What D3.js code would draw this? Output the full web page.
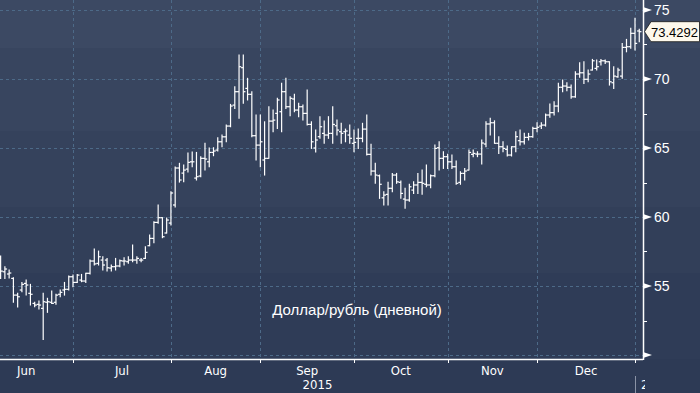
<!DOCTYPE html>
<html><head><meta charset="utf-8">
<script src="https://cdn.jsdelivr.net/npm/d3@7"></script>
<style>
html,body{margin:0;padding:0;background:#2d3a55;overflow:hidden;}
svg{display:block;}
</style></head><body>
<svg id="c" width="700" height="393"></svg>
<script>
// ---------- data ----------
const startDate = "2015-06-08";   // first visible trading day
const monthLabels = ["Jun","Jul","Aug","Sep","Oct","Nov","Dec"];
const yearLabels = ["2015","2016"];
const yMajorTicks = [50,55,60,65,70,75];
const yLabelTicks = [55,60,65,70,75];
const lastValue = 73.4292;
const caption = "Доллар/рубль (дневной)";

const high = [57.17,56.40,56.16,55.60,54.47,55.26,55.43,55.12,53.82,53.91,54.47,54.11,54.63,54.40,54.71,55.26,55.72,
55.79,55.84,55.84,55.92,56.88,57.68,57.53,57.12,57.00,56.52,57.00,56.88,57.05,57.12,57.97,57.12,57.00,57.84,58.69,59.66,60.87,59.95,59.93,
61.83,63.62,63.89,63.76,64.63,64.71,64.68,64.37,65.34,65.00,65.02,65.74,65.94,66.66,68.16,69.44,71.74,71.74,70.05,69.08,67.39,
67.39,66.90,67.99,67.75,68.60,69.69,70.05,68.71,68.89,68.24,68.11,69.20,66.90,66.30,67.27,66.96,67.27,67.99,67.03,66.79,66.37,66.66,
66.30,66.37,66.79,67.39,65.27,63.89,63.04,61.83,62.51,63.16,63.16,62.61,62.08,62.37,62.55,63.16,63.40,63.76,63.04,65.21,65.45,64.73,
64.54,64.49,64.06,63.28,63.52,64.85,64.85,64.73,65.58,66.90,67.15,66.97,65.82,65.45,65.14,65.09,66.18,66.30,66.06,66.06,66.50,
66.83,66.83,67.46,68.19,68.35,69.69,69.92,69.73,69.56,70.53,71.18,71.25,70.65,71.42,71.37,71.42,71.37,71.25,70.89,70.77,72.58,72.87,73.67,74.40,73.60];

const low = [55.55,55.55,55.58,53.82,53.47,54.58,54.34,53.62,53.50,53.33,51.13,53.09,53.74,53.67,54.22,54.34,54.71,
54.95,55.26,55.31,55.26,55.87,56.52,56.52,56.16,56.08,56.08,56.16,56.40,56.52,56.64,56.76,56.64,56.76,57.00,57.92,58.13,59.55,58.50,58.84,
59.42,60.72,62.53,62.55,63.26,63.64,62.68,62.92,63.40,63.64,64.44,64.78,65.09,65.45,66.54,67.87,67.15,68.24,68.48,65.82,64.13,
63.64,63.04,64.25,66.18,66.42,66.18,67.87,67.34,67.63,67.27,67.03,66.66,64.97,64.71,65.70,65.34,65.70,65.34,65.94,65.34,65.45,65.34,
64.73,64.97,65.45,64.49,63.04,62.44,61.35,60.87,60.87,61.83,62.44,61.35,60.63,61.15,61.71,61.71,61.64,62.19,62.12,62.92,63.40,63.52,
63.52,63.52,62.37,62.37,62.68,63.40,64.37,64.37,63.84,65.09,65.94,65.34,64.61,64.73,64.42,64.42,64.73,65.21,65.29,65.58,65.77,
66.18,66.42,66.59,67.22,67.39,67.63,69.08,69.15,68.60,68.67,70.12,69.68,69.80,70.65,70.65,71.01,71.13,69.56,69.32,70.12,70.05,71.97,72.22,72.10,72.70];

const open = [56.74,56.03,55.87,55.55,54.34,54.71,55.19,54.47,53.74,53.67,53.38,53.82,53.82,53.82,54.40,54.71,54.76,
55.67,55.26,55.43,55.36,55.92,56.81,56.64,56.88,56.88,56.30,56.40,56.45,56.81,56.76,56.88,56.88,56.88,57.00,57.92,58.45,59.61,59.95,58.84,
59.56,60.87,63.55,63.18,63.47,64.00,62.82,62.97,64.25,64.00,64.68,64.85,65.45,65.81,66.59,68.11,69.08,70.82,69.32,68.89,65.89,
65.21,64.13,64.25,66.95,67.51,67.63,69.08,67.99,68.55,67.75,67.99,67.51,66.71,65.00,65.82,66.06,65.94,66.06,66.61,66.18,66.18,65.94,
65.34,65.70,65.70,66.37,64.54,63.33,62.99,61.39,61.64,62.08,63.04,62.51,61.30,61.23,61.95,62.32,62.51,62.37,62.32,62.99,65.02,64.25,
64.37,64.00,63.64,62.51,63.16,63.40,64.54,64.56,64.56,65.29,66.74,66.83,65.34,65.09,64.90,64.49,65.09,65.53,65.45,65.77,65.82,
66.42,66.59,66.66,67.39,67.56,68.04,69.40,69.49,69.40,68.71,70.36,70.45,69.98,70.65,70.77,71.25,71.32,71.25,69.73,70.16,70.21,72.29,72.34,73.31,73.48];

const close = [56.08,56.23,55.94,54.34,54.22,55.12,55.07,54.40,53.62,53.62,53.86,53.86,53.74,54.34,54.54,54.76,55.67,
55.26,55.79,55.36,55.92,56.81,56.60,57.12,56.52,56.32,56.40,56.45,56.83,56.81,56.88,56.88,57.00,56.88,57.44,58.45,59.61,59.95,58.57,59.78,
61.74,63.55,62.68,63.40,63.96,64.00,62.92,64.25,64.20,64.68,64.78,65.45,65.81,66.59,68.04,69.08,70.89,69.08,68.89,65.89,65.21,
65.45,64.25,66.95,67.02,68.48,69.08,67.99,68.60,67.75,67.99,67.51,66.71,65.45,65.58,66.54,65.94,66.06,66.71,66.30,66.06,66.23,65.70,
65.41,65.70,66.37,64.54,63.33,63.04,62.37,61.59,62.08,63.04,62.55,61.71,61.23,62.19,62.32,62.51,62.44,62.32,62.99,64.97,64.25,64.37,
64.00,63.64,62.44,63.16,63.33,64.68,64.61,64.56,65.36,66.74,66.83,65.34,65.09,64.97,64.49,65.09,65.82,65.45,65.77,65.82,66.42,
66.50,66.66,67.39,67.56,68.04,69.40,69.49,69.40,68.71,70.36,70.45,69.98,70.36,71.32,70.89,71.32,71.25,69.80,70.21,70.65,72.29,72.34,73.31,72.58,73.4292];

// ---------- layout ----------
const W = 700, H = 393;
const plotRight = 643, axisY = 359;
const svg = d3.select("#c");

// background bands (Bloomberg style)
const bands = [
  [0, 48, "#3c4963"], [48, 131, "#38455f"], [131, 207, "#35425c"],
  [207, 273, "#323f59"], [273, 359, "#2f3c57"], [359, 393, "#2d3a55"]
];
svg.selectAll("rect.bg").data(bands).join("rect").attr("class","bg")
  .attr("x",0).attr("width",W).attr("y",d=>d[0]).attr("height",d=>d[1]-d[0]).attr("fill",d=>d[2]);

// trading-day calendar (weekdays)
const allDays = d3.timeDay.range(new Date(2015,5,1), new Date(2016,1,1))
  .filter(d => d.getDay() !== 0 && d.getDay() !== 6);
const idxOf = new Map(allDays.map((d,i)=>[+d,i]));
const s0 = idxOf.get(+d3.timeParse("%Y-%m-%d")(startDate));
const bars = open.map((o,k)=>({i:s0+k, o, h:high[k], l:low[k], c:close[k]}));

// month starts (first trading day)
const monthStarts = d3.timeMonth.range(new Date(2015,5,1), new Date(2016,1,1)).map(m=>{
  const d = allDays.find(a => a.getMonth()===m.getMonth() && a.getFullYear()===m.getFullYear());
  return idxOf.get(+d);
});

const x = d3.scaleLinear().domain([monthStarts[1], monthStarts[7]]).range([73, 635]);
const y = d3.scaleLinear().domain([50, 75]).range([355, 10]);

// gridlines
const grid = svg.append("g").attr("stroke","#4d6a88").attr("stroke-width",1).attr("stroke-dasharray","3,3");
grid.selectAll("line.h").data(yMajorTicks).join("line")
  .attr("x1",0).attr("x2",plotRight).attr("y1",d=>Math.round(y(d))+0.5).attr("y2",d=>Math.round(y(d))+0.5);
grid.selectAll("line.v").data(monthStarts.filter(i=>x(i)>0 && x(i)<plotRight)).join("line")
  .attr("x1",d=>Math.round(x(d))+0.5).attr("x2",d=>Math.round(x(d))+0.5).attr("y1",0).attr("y2",axisY);

// OHLC bars
svg.append("clipPath").attr("id","plotclip").append("rect")
  .attr("x",0).attr("y",0).attr("width",plotRight).attr("height",axisY);
const g = svg.append("g").attr("clip-path","url(#plotclip)")
  .attr("stroke","#ffffff").attr("stroke-width",1.2).attr("fill","none");
const bg = g.selectAll("g.bar").data(bars).join("g");
bg.append("line").attr("x1",d=>x(d.i)).attr("x2",d=>x(d.i)).attr("y1",d=>y(d.h)-0.5).attr("y2",d=>y(d.l)+0.5);
bg.append("line").attr("x1",d=>x(d.i)-2.2).attr("x2",d=>x(d.i)).attr("y1",d=>y(d.o)).attr("y2",d=>y(d.o));
bg.append("line").attr("x1",d=>x(d.i)).attr("x2",d=>x(d.i)+2.2).attr("y1",d=>y(d.c)).attr("y2",d=>y(d.c));

// x axis
svg.append("line").attr("x1",0).attr("x2",plotRight).attr("y1",axisY+0.5).attr("y2",axisY+0.5)
  .attr("stroke","#ffffff").attr("stroke-width",1.5);
svg.selectAll("line.xt").data(monthStarts.filter(i=>x(i)>0 && x(i)<plotRight)).join("line")
  .attr("x1",d=>Math.round(x(d))+0.5).attr("x2",d=>Math.round(x(d))+0.5)
  .attr("y1",axisY).attr("y2",axisY+4).attr("stroke","#ffffff").attr("stroke-width",1);

const fontNarrow = "'Liberation Sans Narrow','Arial Narrow','DejaVu Sans Condensed',sans-serif";
svg.selectAll("text.month").data(monthLabels).join("text")
  .attr("x",(d,k)=>(x(monthStarts[k])+x(monthStarts[k+1]))/2)
  .attr("y",375).attr("text-anchor","middle").attr("fill","#ffffff")
  .attr("font-family",fontNarrow).attr("font-size",13).text(d=>d);

// year labels
const janX = x(monthStarts[7]);
svg.append("text").attr("x",(0+janX)/2).attr("y",389).attr("text-anchor","middle")
  .attr("fill","#ffffff").attr("font-family",fontNarrow).attr("font-size",13).text(yearLabels[0]);
svg.append("line").attr("x1",Math.round(janX)+0.5).attr("x2",Math.round(janX)+0.5).attr("y1",376).attr("y2",393)
  .attr("stroke","#8a93a6").attr("stroke-width",1);
svg.append("clipPath").attr("id","yrclip").append("rect").attr("x",0).attr("y",360).attr("width",645).attr("height",33);
svg.append("text").attr("clip-path","url(#yrclip)").attr("x",janX+6).attr("y",389)
  .attr("fill","#ffffff").attr("font-family",fontNarrow).attr("font-size",13).text(yearLabels[1]);

// y axis (right)
svg.append("line").attr("x1",plotRight+0.5).attr("x2",plotRight+0.5).attr("y1",0).attr("y2",axisY+1)
  .attr("stroke","#ffffff").attr("stroke-width",1.5);
const minor = d3.range(52.5, 76, 5);
svg.selectAll("line.ym").data(minor).join("line")
  .attr("x1",plotRight).attr("x2",plotRight+4).attr("y1",d=>Math.round(y(d))+0.5).attr("y2",d=>Math.round(y(d))+0.5)
  .attr("stroke","#ffffff").attr("stroke-width",1);
svg.selectAll("path.ytri").data(yMajorTicks).join("path")
  .attr("d",d=>{const yy=y(d);return `M${plotRight},${yy-3} L${plotRight+9},${yy} L${plotRight},${yy+3} Z`;})
  .attr("fill","#ffffff");
svg.selectAll("text.ylab").data(yLabelTicks).join("text")
  .attr("x",654).attr("y",d=>y(d)+5).attr("fill","#ffffff")
  .attr("font-family","'Liberation Sans',Arial,sans-serif").attr("font-size",14).text(d=>d);

// last value label
const ly = y(lastValue);
svg.append("path")
  .attr("d",`M${plotRight+1.5},${ly} L${plotRight+8},${ly-10} L699.5,${ly-10} L699.5,${ly+10} L${plotRight+8},${ly+10} Z`)
  .attr("fill","#fdf8ec").attr("stroke","#1a1a1a").attr("stroke-width",0.8);
svg.append("text").attr("x",651).attr("y",ly+5).attr("fill","#000000")
  .attr("font-family","'Liberation Sans',Arial,sans-serif").attr("font-size",13).text(d3.format(".4f")(lastValue));

// caption
svg.append("text").attr("x",357).attr("y",315).attr("text-anchor","middle").attr("fill","#ffffff")
  .attr("font-family","'Liberation Sans',Arial,sans-serif").attr("font-size",15).text(caption);
</script>
</body></html>
